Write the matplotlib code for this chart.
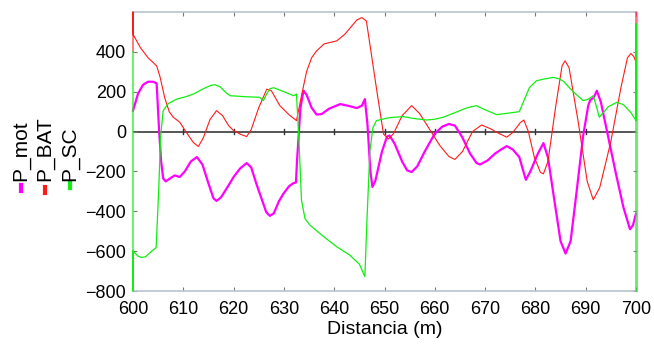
import matplotlib
matplotlib.use('Agg')
import matplotlib.pyplot as plt
from matplotlib.lines import Line2D

plt.rcParams['font.family'] = ['Liberation Sans', 'DejaVu Sans']

# P_mot (magenta)
mot_x = [600, 601, 602, 603, 604, 604.7, 605.2, 605.6, 606, 606.5, 607.2, 608.3, 609.3, 610.3,
         611.5, 612.7, 613.8, 615, 616, 616.6, 617.5, 619, 620, 621.3, 622.6, 623.5, 624.5,
         625.6, 626.5, 627.2, 628, 629, 629.9, 631, 631.8, 632.4, 632.6, 633.3, 633.9, 634.5,
         635.5, 636.5, 637.5, 639, 641.2, 643, 644.5, 645.5, 646.1, 646.6, 647.2, 647.6, 648.2,
         649.5, 650.5, 651, 652, 653.5, 654.5, 655.4, 656.5, 658, 660, 661.5, 662.8, 664,
         665.5, 667, 668.3, 669, 670.5, 672, 673.5, 674.3, 675.5, 676.8, 677.5, 678.1, 679,
         680.5, 681.6, 682.5, 683.8, 685, 686, 687, 688.2, 689.5, 690.5, 690.9, 691.6, 692.2,
         693, 694.5, 696, 697.5, 698.8, 699.4, 700]
mot_y = [105, 190, 235, 250, 250, 242, 0, -150, -235, -250, -238, -220, -228, -200,
         -150, -128, -165, -260, -335, -348, -330, -270, -228, -185, -158, -180, -260,
         -340, -405, -423, -410, -350, -312, -275, -260, -255, -150, 120, 205, 185,
         120, 85, 88, 115, 138, 128, 118, 130, 163, 40, -200, -278, -245,
         -100, -25, -20, -60, -150, -195, -203, -175, -100, -10, 25, 38, 30,
         -30, -110, -158, -165, -145, -110, -85, -73, -90, -128, -190, -242, -200,
         -110, -58, -130, -350, -550, -612, -550, -300, -20, 130, 158, 170, 205,
         150, -30, -210, -380, -490, -470, -412]

# P_BAT (rojo)
bat_x = [600, 600, 600, 601.5, 603, 604.7, 605.4, 606.3, 607.2, 608, 609.3, 610.5, 612, 613,
         614, 615.3, 616.6, 617.8, 619, 620, 621.5, 622.6, 623.5, 625, 626.6, 627.5, 629.2,
         631, 632.5, 633.5, 634.5, 635.5, 636.5, 638, 640.5, 642.1, 643.5, 644.5, 645.5,
         646.4, 647.2, 648.5, 649.8, 650.8, 651.8, 653.5, 655.4, 657, 659, 661, 662.8, 664,
         665.5, 667.5, 669.3, 671, 672.8, 674.3, 675.5, 677, 677.7, 678.6, 679.8, 681,
         681.6, 682.5, 684, 685.3, 685.9, 686.7, 688.5, 690.3, 691.5, 692.8, 695, 697,
         698.3, 699, 699.6, 700, 700]
bat_y = [400, 600, 488, 420, 370, 330, 272, 170, 100, 72, 47, 0, -55, -75,
         -30, 60, 105, 80, 30, 5, -15, -25, 10, 120, 213, 205, 130,
         85, 55, 180, 300, 370, 405, 440, 455, 488, 530, 560, 572,
         555, 420, 200, -12, -37, -10, 80, 130, 90, 10, -70, -125, -140,
         -100, 0, 33, 15, -10, -28, -5, 45, 58, 0, -130, -205,
         -212, -150, 120, 330, 355, 320, 50, -250, -342, -280, -50, 220,
         370, 392, 375, 347, 600]

# P_SC (verde)
sc_x = [600, 600, 600, 601, 601.7, 602.5, 603.5, 604.6, 605.1, 605.5, 606, 607, 608.7, 610.5,
        612, 614, 615.5, 616.3, 617.3, 618.5, 619.3, 622.3, 625.2, 625.9, 626.5, 627.2, 628,
        629.2, 630.5, 631.9, 632.5, 633, 633.5, 634.2, 635.2, 637.8, 640.5, 643.1, 645, 646.1,
        646.5, 647.1, 647.7, 648.4, 651, 653.7, 656, 658.4, 660, 661.7, 664.5, 666.5, 668.3,
        669.5, 672.3, 674.5, 676.8, 677.8, 678.8, 680.2, 682, 683.6, 684.7, 685.6, 687.5,
        689.5, 690.5, 691.5, 692.2, 692.7, 693.5, 694.5, 696.2, 697.5, 699, 700, 700, 700]
sc_y = [400, -800, -600, -625, -632, -628, -605, -582, -300, -20, 105, 140, 163, 175,
        188, 215, 232, 235, 225, 195, 180, 175, 172, 155, 185, 215, 220,
        208, 195, 180, 188, -50, -345, -437, -470, -525, -578, -620, -665, -728,
        -450, -95, 20, 55, 70, 75, 65, 58, 62, 72, 100, 120, 130,
        115, 85, 92, 100, 160, 220, 255, 265, 272, 265, 252, 200,
        155, 162, 180, 120, 72, 95, 125, 147, 135, 95, 55, 540, -800]

xticks = [600, 610, 620, 630, 640, 650, 660, 670, 680, 690, 700]
yticks = [-800, -600, -400, -200, 0, 200, 400]

fig = plt.figure(figsize=(6.54, 3.48), dpi=100)
ax = fig.add_axes([133 / 654, 1 - 291 / 348, 503 / 654, 279 / 348])

# linea de cero con marcas
ax.axhline(0, color='#555555', linewidth=1.4, zorder=1)
for t in xticks[1:-1]:
    ax.plot([t, t], [-12, 12], color='#333333', linewidth=1.0, zorder=1)

ax.plot(mot_x, mot_y, color='#ff00ff', linewidth=1.6, zorder=2,
        solid_joinstyle='round', clip_on=False)
ax.plot(bat_x, bat_y, color='#ff1a1a', linewidth=0.8, zorder=3,
        solid_joinstyle='round', clip_on=False)
ax.plot(sc_x, sc_y, color='#11ee11', linewidth=0.9, zorder=4,
        solid_joinstyle='round', clip_on=False)

ax.set_xlim(600, 700)
ax.set_ylim(-800, 600)
ax.set_xticks(xticks)
ax.set_yticks(yticks)
ax.tick_params(axis='both', direction='in', length=3, color='#777777',
               labelsize=13, top=True, right=True, pad=7)
ax.tick_params(axis='y', pad=5)

for s in ['top', 'bottom']:
    ax.spines[s].set_color('#b8c4d0')
    ax.spines[s].set_linewidth(1.2)
ax.spines['left'].set_visible(False)
ax.spines['right'].set_color('#ff88ff')
ax.spines['right'].set_linewidth(1.0)
ax.spines['right'].set_position(('outward', 1))

ax.set_xlabel('Distancia (m)', fontsize=14, labelpad=2)

# leyenda vertical a la izquierda
nombres = ['P_mot', 'P_BAT', 'P_SC']
colores = ['#ff00ff', '#ff1a1a', '#11ee11']
xs = [21, 45, 70]
marcas = [(185, 191), (187, 193), (182, 188)]
for nombre, col, xp, (y0, y1) in zip(nombres, colores, xs, marcas):
    fig.text(xp / 654, 1 - 181 / 348, nombre, rotation=90, ha='center', va='bottom', fontsize=15)
    fig.add_artist(Line2D([xp / 654, xp / 654], [1 - y0 / 348, 1 - y1 / 348],
                          color=col, linewidth=3, transform=fig.transFigure))

plt.savefig('out.png', dpi=100)
plt.close()
